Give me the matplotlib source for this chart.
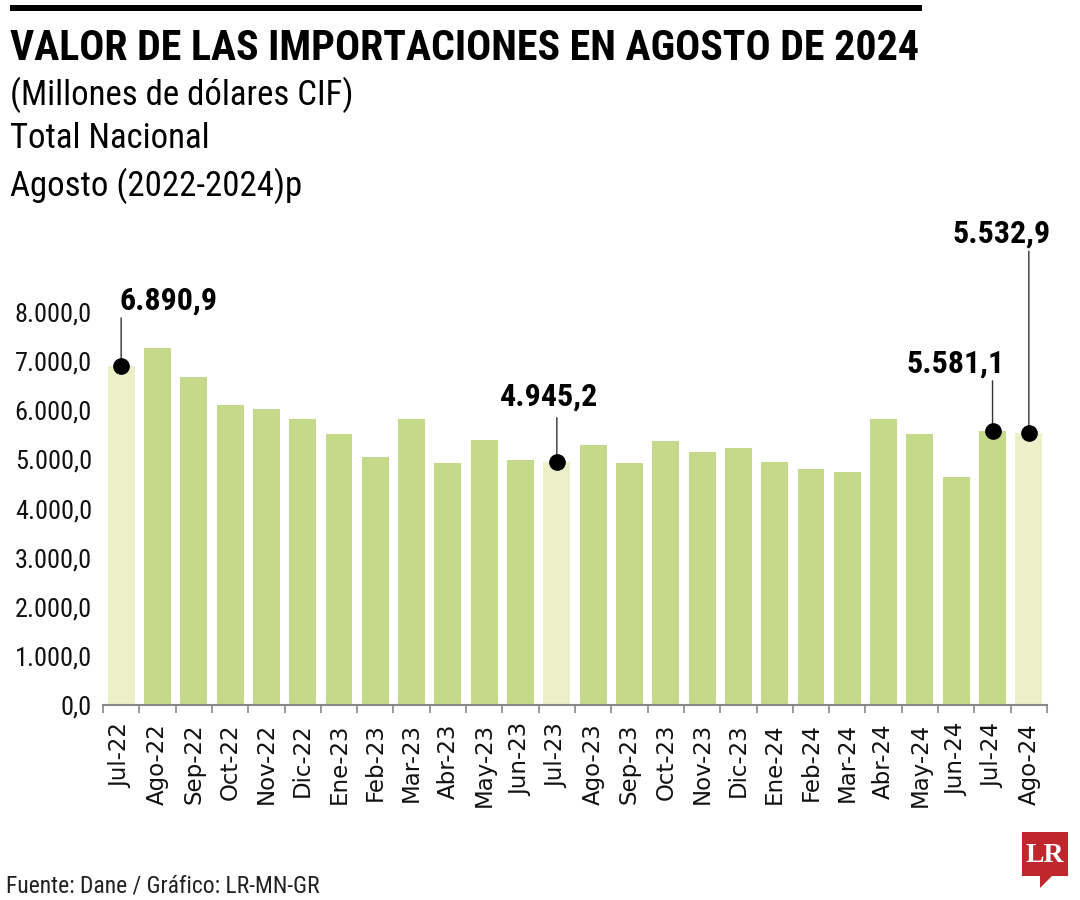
import matplotlib
matplotlib.use("Agg")
import matplotlib.pyplot as plt
import matplotlib.font_manager as fm
from matplotlib.patches import Rectangle, Polygon

categories = ["Jul-22", "Ago-22", "Sep-22", "Oct-22", "Nov-22", "Dic-22", "Ene-23", "Feb-23",
              "Mar-23", "Abr-23", "May-23", "Jun-23", "Jul-23", "Ago-23", "Sep-23", "Oct-23",
              "Nov-23", "Dic-23", "Ene-24", "Feb-24", "Mar-24", "Abr-24", "May-24", "Jun-24",
              "Jul-24", "Ago-24"]
values = [6890.9, 7270, 6680, 6110, 6030, 5820, 5520, 5050,
          5830, 4930, 5400, 4990, 4945.2, 5290, 4930, 5370,
          5150, 5230, 4950, 4800, 4740, 5830, 5520, 4640,
          5581.1, 5532.9]
highlight = ["Jul-22", "Jul-23", "Ago-24"]
annotated = ["Jul-22", "Jul-23", "Jul-24", "Ago-24"]
annot_text = ["6.890,9", "4.945,2", "5.581,1", "5.532,9"]
yticks = [0, 1000, 2000, 3000, 4000, 5000, 6000, 7000, 8000]
ytick_labels = ["0,0", "1.000,0", "2.000,0", "3.000,0", "4.000,0", "5.000,0", "6.000,0", "7.000,0", "8.000,0"]

names = {f.name for f in fm.fontManager.ttflist}
COND = None
for cand in ["Liberation Sans Narrow", "DejaVu Sans Condensed", "Roboto Condensed", "Open Sans Condensed"]:
    if cand in names:
        COND = cand
        break
if COND is None:
    COND = "DejaVu Sans"

GREEN = "#C5D98A"
PALE = "#ECF0C8"

fig = plt.figure(figsize=(10.8, 9), dpi=100)
W, H = 1080, 900
ax = fig.add_axes([103 / W, 1 - 705 / H, (1047 - 103) / W, (705 - 312) / H])

x = list(range(len(categories)))
colors = [PALE if c in highlight else GREEN for c in categories]
ax.bar(x, values, width=0.74, color=colors, zorder=2)
ax.set_xlim(-0.5, len(categories) - 0.5)
ax.set_ylim(0, 8000)

for s in ["top", "right", "left"]:
    ax.spines[s].set_visible(False)
ax.spines["bottom"].set_color("#888888")
ax.spines["bottom"].set_linewidth(1.5)

ax.set_xticks(x)
ax.set_xticklabels(categories, rotation=90, fontsize=16.5, family="DejaVu Sans", color="#111111")
ax.tick_params(axis="x", length=0, pad=13)
ax.set_xticks([i - 0.5 for i in range(len(categories) + 1)], minor=True)
ax.tick_params(axis="x", which="minor", length=6, width=1.2, color="#888888")

ax.set_yticks(yticks)
ax.set_yticklabels(ytick_labels, fontsize=19, family=COND, color="#111111")
ax.tick_params(axis="y", length=0, pad=8)

# annotations: (line length pt, text ha, text x offset pt, text baseline offset pt)
offsets = {"Jul-22": (35, "left", -1, 41), "Jul-23": (32, "center", -6, 41),
           "Jul-24": (36, "right", 9, 42), "Ago-24": (131, "right", 16, 137)}
for cat, txt in zip(annotated, annot_text):
    i = categories.index(cat)
    v = values[i]
    dy, ha, tx, ty = offsets[cat]
    ax.plot([i], [v], "o", color="black", markersize=11, zorder=5, clip_on=False)
    ax.annotate("", xy=(i, v), xytext=(0, dy), textcoords="offset points",
                arrowprops=dict(arrowstyle="-", color="#333333", lw=1.0, shrinkA=0, shrinkB=0),
                annotation_clip=False, zorder=4)
    ax.annotate(txt, xy=(i, v), xytext=(tx, ty), textcoords="offset points",
                ha=ha, va="baseline", fontsize=23, fontweight="bold", family=COND,
                color="black", annotation_clip=False)

# header
fig.add_artist(Rectangle((10 / W, 1 - 11 / H), (922 - 10) / W, 6 / H, transform=fig.transFigure,
                         color="black", lw=0))
fig.text(10 / W, 1 - 48 / H, "VALOR DE LAS IMPORTACIONES EN AGOSTO DE 2024", fontsize=30.2,
         fontweight="bold", family=COND, va="center", ha="left", color="black")
fig.text(10 / W, 1 - 95 / H, "(Millones de dólares CIF)", fontsize=25, family=COND,
         va="center", ha="left", color="black")
fig.text(10 / W, 1 - 138 / H, "Total Nacional", fontsize=25, family=COND,
         va="center", ha="left", color="black")
fig.text(10 / W, 1 - 186 / H, "Agosto (2022-2024)p", fontsize=25, family=COND,
         va="center", ha="left", color="black")

# footer
fig.text(6 / W, 1 - 886 / H, "Fuente: Dane / Gráfico: LR-MN-GR", fontsize=17, family=COND,
         va="center", ha="left", color="#222222")

# LR logo
fig.add_artist(Rectangle((1022 / W, 1 - 876 / H), 46 / W, 44 / H, transform=fig.transFigure,
                         color="#C0272D", lw=0))
fig.add_artist(Polygon([(1040 / W, 1 - 876 / H), (1052 / W, 1 - 876 / H), (1040 / W, 1 - 888 / H)],
                       closed=True, transform=fig.transFigure, color="#C0272D", lw=0))
fig.text(1045 / W, 1 - 855 / H, "LR", fontsize=20, fontweight="bold", family="Liberation Serif",
         va="center", ha="center", color="white")

fig.savefig("out.png", dpi=100, facecolor="white")
